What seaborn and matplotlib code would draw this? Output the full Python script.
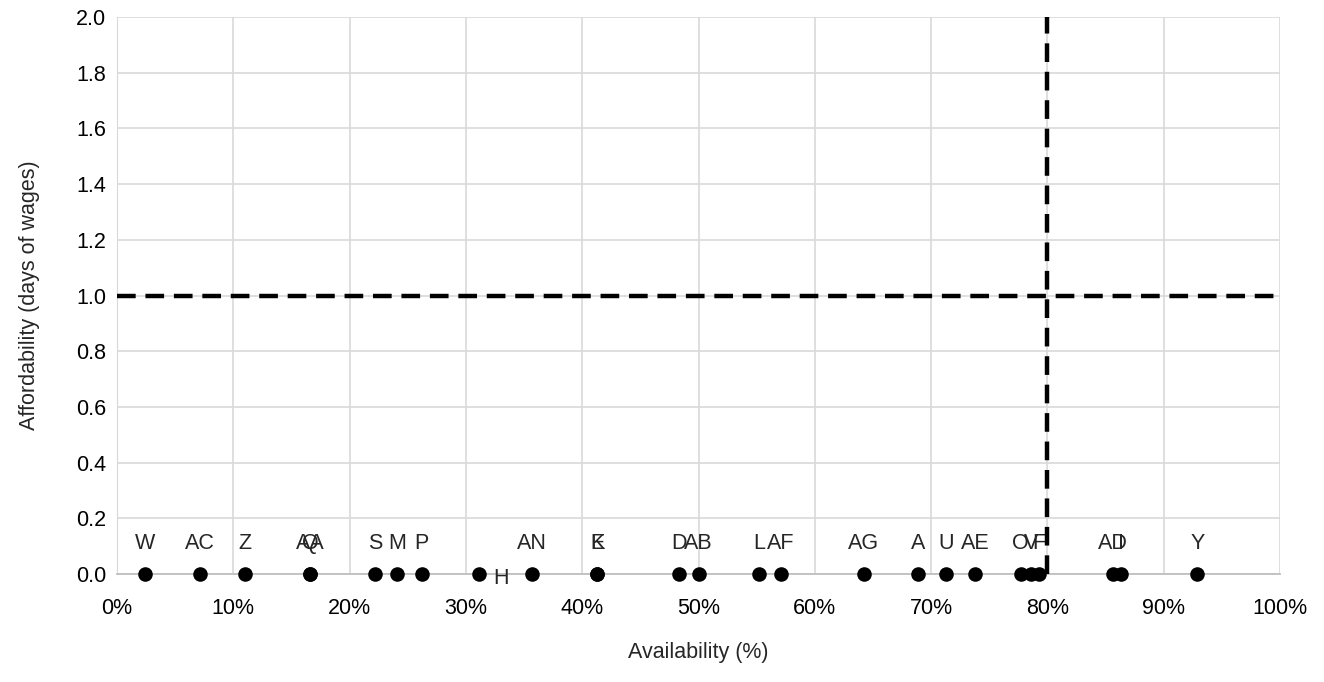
import pandas as pd
import matplotlib.pyplot as plt
import seaborn as sns
from matplotlib.ticker import PercentFormatter, MultipleLocator

# dados
nomes = ["W", "AC", "Z", "Q", "AA", "S", "M", "P", "H", "AN", "E", "K", "D", "AB",
         "L", "AF", "AG", "A", "U", "AE", "O", "V", "F", "AD", "I", "Y"]
disponibilidade = [2.4, 7.1, 11.0, 16.6, 16.6, 22.2, 24.1, 26.2, 31.1, 35.7, 41.3, 41.3,
                   48.3, 50.0, 55.2, 57.1, 64.2, 68.9, 71.3, 73.8, 77.7, 78.6, 79.3,
                   85.6, 86.3, 92.9]
acessibilidade = [0.0] * len(nomes)
limite_x = 80
limite_y = 1.0

df = pd.DataFrame({"nome": nomes, "disp": disponibilidade, "aces": acessibilidade})

sns.set_style("whitegrid")
plt.rcParams["font.family"] = ["Liberation Sans", "DejaVu Sans"]
tam = 15.5

fig = plt.figure(figsize=(13.24, 6.82), dpi=100)
ax = fig.add_axes([0.0884, 0.1583, 0.8784, 0.8167])

sns.scatterplot(data=df, x="disp", y="aces", color="black", s=110,
                edgecolor="black", linewidth=0, ax=ax, zorder=5, clip_on=False)

# linhas de referência
ax.axhline(limite_y, color="black", lw=3.2, ls=(0, (4.2, 2.2)), zorder=4)
ax.axvline(limite_x, color="black", lw=3.2, ls=(0, (4.2, 2.2)), zorder=4)

for _, r in df.iterrows():
    if r["nome"] == "H":
        ax.annotate(r["nome"], (r["disp"], r["aces"]), xytext=(16, -3),
                    textcoords="offset points", ha="center", va="center", fontsize=tam)
    else:
        ax.annotate(r["nome"], (r["disp"], r["aces"]), xytext=(0, 22),
                    textcoords="offset points", ha="center", va="center", fontsize=tam)

ax.set_xlim(0, 100)
ax.set_ylim(0, 2.0)
ax.xaxis.set_major_locator(MultipleLocator(10))
ax.yaxis.set_major_locator(MultipleLocator(0.2))
ax.xaxis.set_major_formatter(PercentFormatter(xmax=100, decimals=0))
ax.yaxis.set_major_formatter(lambda v, p: f"{v:.1f}")

ax.grid(True, color="#d9d9d9", lw=1.2)
for lado in ["top", "right"]:
    ax.spines[lado].set_visible(False)
ax.spines["left"].set_color("#d9d9d9")
ax.spines["bottom"].set_color("#bfbfbf")
ax.spines["bottom"].set_linewidth(1.3)

ax.tick_params(axis="x", length=0, pad=17, labelsize=tam, colors="black")
ax.tick_params(axis="y", length=0, pad=8, labelsize=tam, colors="black")

ax.set_xlabel("Availability (%)", fontsize=tam, labelpad=17)
ax.set_ylabel("Affordability (days of wages)", fontsize=tam, labelpad=26)

fig.savefig("out.png", dpi=100)
